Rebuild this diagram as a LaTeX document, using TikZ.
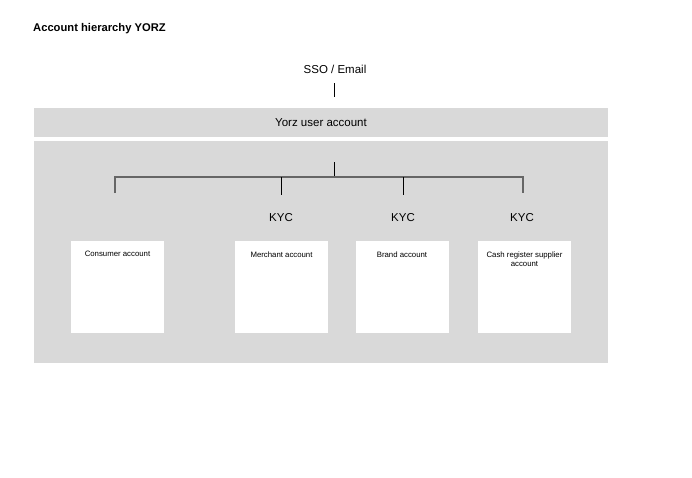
\documentclass[tikz,border=0pt]{standalone}
\usepackage{fontspec}
\setmainfont{Liberation Sans}
\definecolor{panelgray}{HTML}{D9D9D9}
\definecolor{bargray}{HTML}{666666}
\tikzset{
  panel/.style={fill=panelgray, draw=none, inner sep=0pt},
  acctbox/.style={fill=white, draw=none, minimum width=93pt, minimum height=92pt, inner sep=0pt},
  acctlabel/.style={anchor=north, font=\fontsize{7.8}{9}\selectfont, align=center, inner sep=0pt},
  midtext/.style={font=\fontsize{11.5}{13}\selectfont, inner sep=0pt},
  thin/.style={draw=black, line width=0.8pt},
  thick bar/.style={draw=bargray, line width=1.6pt}
}
\begin{document}
\begin{tikzpicture}[x=1pt,y=-1pt]
\useasboundingbox (0,0) rectangle (692,477);

\node[anchor=west, font=\bfseries\fontsize{11.2}{13}\selectfont, inner sep=0pt] (title) at (33,29) {Account hierarchy YORZ};

\node[midtext] (sso) at (335,69) {SSO / Email};
\node[panel, minimum width=574pt, minimum height=29pt] (user) at (321,122.5) {};
\node[midtext] at (user.center) {Yorz user account};
\node[panel, minimum width=574pt, minimum height=222pt] (group) at (321,252) {};

% accounts
\node[acctbox] (consumer) at (117.5,287) {};
\node[acctbox] (merchant) at (281.5,287) {};
\node[acctbox] (brand) at (402,287) {};
\node[acctbox] (cash) at (524.5,287) {};
\node[acctlabel] at ([yshift=-10.5pt]consumer.north) {Consumer account};
\node[acctlabel] at ([yshift=-10.5pt]merchant.north) {Merchant account};
\node[acctlabel] at ([yshift=-10.5pt]brand.north) {Brand account};
\node[acctlabel] at ([yshift=-10.5pt]cash.north) {Cash register supplier\\account};

\node[midtext] (kycm) at (281,218) {KYC};
\node[midtext] (kycb) at (403,218) {KYC};
\node[midtext] (kycc) at (522,218) {KYC};

% tree
\coordinate (ssostart) at (334,83);
\coordinate (ssoend) at (334,97);
\coordinate (top) at (334,162);
\coordinate (bar) at (334,177);
\coordinate (barl) at (115,177);
\coordinate (barr) at (523,177);
\draw[thin] (ssostart) -- (ssoend);
\draw[thin] (top) -- (bar);
\draw[thick bar] (barl |- 0,193) -- (barl) -- (barr) -- (barr |- 0,193);
\draw[thin] (281,177) -- (kycm.north |- 0,195);
\draw[thin] (403,177) -- (kycb.north |- 0,195);
\end{tikzpicture}
\end{document}
